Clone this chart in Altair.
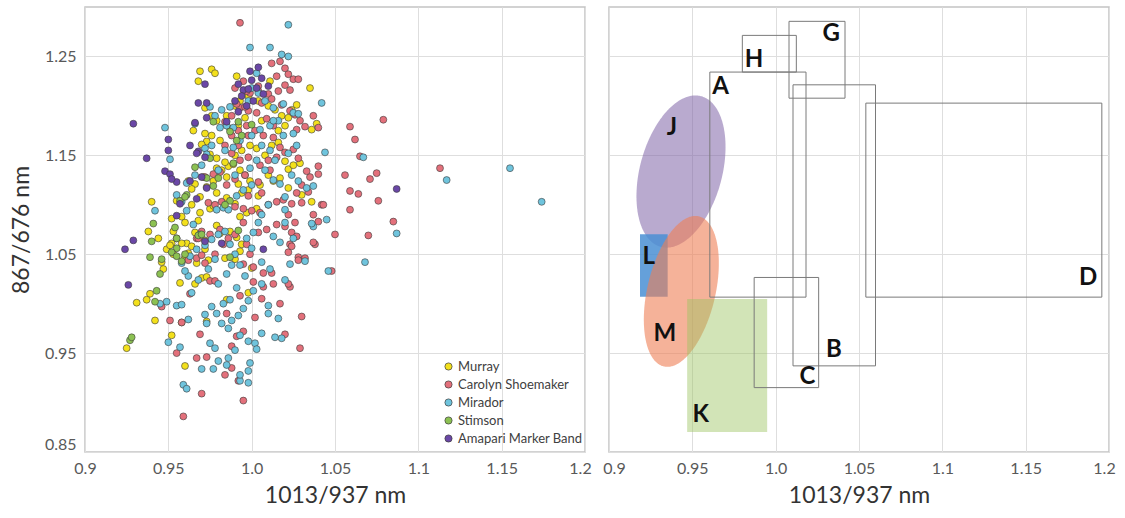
import altair as alt
import numpy as np
import pandas as pd

# Panel geometry and scales
W, H = 500, 445
X_DOMAIN = [0.9, 1.2]
Y_DOMAIN = [0.85, 1.3]
X_TICKS = [0.9, 0.95, 1.0, 1.05, 1.1, 1.15, 1.2]
X_TICK_LABELS = ["0.9", "0.95", "1.0", "1.05", "1.1", "1.15", "1.2"]
Y_TICKS = [0.85, 0.95, 1.05, 1.15, 1.25]
Y_TICK_LABELS = ["0.85", "0.95", "1.05", "1.15", "1.25"]

SERIES = ["Murray", "Carolyn Shoemaker", "Mirador", "Stimson", "Amapari Marker Band"]
COLORS = ["#f3e01c", "#e3707b", "#6fc4dd", "#8cc152", "#6a47a6"]

# (1013/937, 867/676) band ratios per member
MURRAY = [
    (0.969, 1.235), (0.976, 1.237), (0.978, 1.233), (0.968, 1.225), (0.991, 1.230), (1.011, 1.225),
    (1.035, 1.218), (0.972, 1.198), (0.976, 1.190), (0.940, 1.103), (0.938, 1.073), (0.944, 1.066),
    (0.949, 1.055), (0.953, 1.050), (0.952, 1.061), (0.946, 1.042), (0.947, 1.035), (0.939, 1.010),
    (0.937, 1.004), (0.931, 1.001), (0.942, 0.983), (0.952, 0.968), (0.925, 0.955), (0.960, 0.937),
    (0.958, 0.981), (0.957, 1.021), (0.966, 1.020), (0.970, 1.026), (0.973, 1.027), (0.973, 0.982),
    (1.000, 1.036), (0.998, 1.011), (0.985, 1.004), (0.981, 1.071), (0.979, 1.079), (0.955, 1.104),
    (0.964, 1.100), (0.961, 1.061), (0.964, 1.058), (0.967, 1.041), (0.974, 1.044), (0.972, 1.055),
    (0.958, 1.061), (0.962, 1.051), (0.960, 1.047), (0.966, 1.072), (0.972, 1.064), (0.968, 1.084),
    (0.969, 1.092), (0.975, 1.096), (0.977, 1.099), (0.979, 1.112), (0.985, 1.107), (0.994, 1.112),
    (0.998, 1.115), (1.004, 1.109), (0.992, 1.121), (0.977, 1.124), (0.973, 1.118), (0.966, 1.121),
    (0.962, 1.124), (0.979, 1.137), (0.982, 1.135), (0.986, 1.139), (0.989, 1.141), (0.993, 1.135),
    (0.996, 1.130), (0.999, 1.124), (0.990, 1.150), (0.994, 1.155), (0.999, 1.160), (1.003, 1.157),
    (1.008, 1.150), (1.012, 1.160), (1.016, 1.163), (1.020, 1.144), (1.022, 1.136), (1.025, 1.140),
    (1.030, 1.110), (1.022, 1.117), (1.036, 1.103), (1.036, 1.176), (1.039, 1.182), (1.029, 1.142),
    (0.973, 1.164), (0.970, 1.161), (0.976, 1.170), (0.981, 1.165), (0.987, 1.177), (0.985, 1.190),
    (0.990, 1.200), (0.993, 1.205), (0.998, 1.210), (1.004, 1.205), (1.010, 1.200), (1.014, 1.196),
    (1.018, 1.190), (1.022, 1.188), (1.020, 1.180), (1.016, 1.175), (1.006, 1.185), (0.996, 1.188),
    (0.992, 1.180), (0.979, 1.185), (0.972, 1.172), (0.965, 1.175), (0.975, 1.151), (0.979, 1.147),
    (0.984, 1.143), (1.010, 1.130), (1.013, 1.124), (1.017, 1.127), (1.005, 1.120), (0.990, 1.101),
    (0.993, 1.088), (0.987, 1.073), (0.991, 1.067), (0.994, 1.060), (0.993, 1.053), (0.990, 1.045),
    (0.984, 1.046), (0.955, 1.066), (0.951, 1.059), (0.953, 1.073), (0.960, 1.082), (0.952, 1.086),
    (0.958, 1.088), (0.964, 1.116), (0.969, 1.108), (1.027, 1.201), (1.024, 1.196), (1.003, 1.096),
    (0.997, 1.092), (0.985, 1.128), (0.971, 1.128),
]

CAROLYN = [
    (0.993, 1.284), (1.012, 1.243), (1.017, 1.245), (1.020, 1.238), (1.022, 1.232), (1.015, 1.230),
    (1.025, 1.227), (1.028, 1.227), (1.020, 1.221), (1.023, 1.216), (1.016, 1.215), (1.010, 1.212),
    (1.004, 1.220), (0.999, 1.213), (0.990, 1.218), (0.995, 1.225), (1.006, 1.203), (1.012, 1.207),
    (1.018, 1.201), (1.023, 1.195), (1.026, 1.191), (1.029, 1.185), (1.027, 1.176), (1.032, 1.179),
    (1.037, 1.190), (1.040, 1.178), (1.040, 1.139), (1.040, 1.131), (1.025, 1.156), (1.028, 1.147),
    (1.015, 1.148), (1.011, 1.135), (1.005, 1.140), (0.998, 1.148), (0.993, 1.145), (0.988, 1.152),
    (0.984, 1.160), (0.988, 1.170), (0.992, 1.175), (0.997, 1.180), (1.002, 1.175), (1.007, 1.170),
    (1.013, 1.168), (1.017, 1.158), (1.020, 1.153), (1.013, 1.180), (1.009, 1.187), (1.003, 1.193),
    (0.998, 1.195), (0.993, 1.198), (0.988, 1.190), (0.984, 1.184), (0.998, 1.170), (0.992, 1.160),
    (0.996, 1.130), (0.990, 1.126), (0.985, 1.120), (0.981, 1.133), (0.977, 1.131), (0.972, 1.128),
    (0.974, 1.102), (0.978, 1.100), (0.982, 1.103), (0.990, 1.098), (0.995, 1.096), (1.000, 1.094),
    (1.005, 1.092), (1.010, 1.100), (1.015, 1.103), (1.019, 1.105), (1.024, 1.101), (1.027, 1.112),
    (1.030, 1.120), (1.035, 1.128), (1.033, 1.134), (1.022, 1.090), (1.026, 1.082), (1.020, 1.078),
    (1.015, 1.080), (1.009, 1.075), (1.004, 1.072), (1.024, 1.072), (1.027, 1.068), (1.023, 1.060),
    (1.022, 1.052), (1.024, 1.058), (1.028, 1.047), (0.995, 1.082), (0.990, 1.070), (0.981, 1.075),
    (0.975, 1.070), (0.970, 1.073), (0.967, 1.066), (0.962, 1.044), (0.967, 1.046), (0.970, 1.049),
    (0.972, 1.041), (0.975, 1.023), (0.978, 1.023), (0.968, 1.066), (0.963, 1.010), (0.958, 0.981),
    (0.955, 0.950), (0.951, 0.983), (0.946, 0.997), (0.967, 0.945), (0.970, 0.909), (0.973, 0.946),
    (0.969, 0.969), (0.984, 0.928), (0.988, 0.935), (0.992, 0.922), (0.988, 0.957), (0.991, 0.967),
    (0.995, 0.972), (0.985, 0.990), (1.002, 0.986), (1.006, 1.005), (1.013, 1.020), (1.012, 1.031),
    (1.007, 1.031), (1.001, 1.037), (0.999, 1.050), (0.997, 1.060), (1.001, 1.022), (0.993, 1.008),
    (1.007, 1.017), (1.020, 0.969), (1.023, 1.017), (1.017, 1.000), (1.022, 1.020), (0.959, 0.886),
    (0.995, 0.902), (1.050, 1.070), (1.040, 1.083), (1.042, 1.100), (1.038, 1.060), (1.028, 1.044),
    (0.978, 1.050), (0.983, 1.060), (0.986, 1.066), (0.995, 1.040), (0.998, 1.109), (1.004, 1.123),
    (1.010, 1.145), (1.006, 1.112), (0.996, 1.199), (0.991, 1.202), (0.997, 1.215), (1.004, 1.215),
    (1.113, 1.137), (1.079, 1.186), (1.059, 1.179), (1.062, 1.166), (1.065, 1.149), (1.056, 1.130),
    (1.071, 1.126), (1.075, 1.132), (1.059, 1.114), (1.064, 1.111), (1.076, 1.104), (1.043, 1.100),
    (1.059, 1.095), (1.085, 1.083), (1.070, 1.069), (1.037, 1.062), (1.048, 1.033), (1.030, 0.987),
    (1.029, 0.955), (1.032, 1.046), (1.034, 1.113), (1.030, 1.102), (1.037, 1.090),
]

MIRADOR = [
    (1.022, 1.282), (0.999, 1.259), (1.011, 1.259), (1.018, 1.252), (1.022, 1.250), (1.003, 1.233),
    (1.000, 1.218), (1.004, 1.213), (0.998, 1.205), (1.008, 1.205), (1.013, 1.198), (1.019, 1.202),
    (1.025, 1.193), (1.016, 1.185), (1.011, 1.180), (1.005, 1.176), (0.987, 1.199), (0.982, 1.196),
    (0.978, 1.190), (0.985, 1.180), (0.989, 1.178), (1.000, 1.170), (1.006, 1.160), (1.011, 1.155),
    (1.014, 1.145), (1.022, 1.152), (1.027, 1.160), (1.019, 1.170), (0.993, 1.165), (0.989, 1.158),
    (0.984, 1.155), (0.976, 1.160), (0.972, 1.157), (0.970, 1.140), (0.980, 1.135), (0.990, 1.130),
    (0.999, 1.137), (1.003, 1.145), (1.008, 1.135), (1.013, 1.125), (1.017, 1.121), (1.024, 1.130),
    (1.028, 1.124), (1.033, 1.117), (1.037, 1.119), (1.037, 1.078), (1.045, 1.085), (1.042, 1.203),
    (1.044, 1.153), (1.067, 1.148), (1.117, 1.125), (1.155, 1.137), (1.174, 1.103), (1.087, 1.071),
    (1.068, 1.042), (1.046, 1.033), (1.032, 1.043), (1.006, 1.042), (1.000, 1.056), (0.997, 1.066),
    (1.001, 1.072), (1.004, 1.082), (1.006, 1.090), (1.010, 1.100), (1.013, 1.068), (1.017, 1.062),
    (1.011, 1.035), (1.006, 1.020), (1.001, 1.013), (0.998, 1.003), (0.995, 0.995), (0.992, 0.988),
    (0.988, 0.983), (0.986, 0.975), (0.982, 0.980), (0.979, 0.990), (0.976, 0.997), (0.972, 0.989),
    (0.973, 0.980), (0.975, 0.960), (0.978, 0.955), (0.980, 0.942), (0.985, 0.938), (0.990, 0.953),
    (0.993, 0.968), (0.998, 0.962), (1.002, 0.960), (0.999, 0.940), (0.998, 0.932), (0.998, 0.920),
    (0.993, 0.922), (0.993, 0.928), (0.986, 0.945), (0.977, 0.934), (0.970, 0.934), (0.959, 0.918),
    (0.961, 0.914), (0.957, 0.956), (0.950, 0.961), (0.955, 0.998), (0.949, 1.002), (0.945, 1.000),
    (0.958, 0.999), (0.962, 0.984), (0.964, 1.011), (0.968, 1.024), (0.962, 1.028), (0.960, 1.033),
    (0.958, 1.041), (0.963, 1.048), (0.967, 1.055), (0.972, 1.059), (0.976, 1.065), (0.980, 1.070),
    (0.984, 1.073), (0.987, 1.060), (0.990, 1.050), (0.993, 1.039), (0.996, 1.028), (0.991, 1.016),
    (0.987, 1.004), (0.983, 1.000), (0.980, 1.020), (0.985, 1.030), (0.988, 1.039), (0.978, 1.045),
    (0.974, 1.035), (0.969, 1.070), (0.965, 1.080), (0.961, 1.094), (0.958, 1.103), (0.955, 1.110),
    (0.961, 1.122), (0.966, 1.130), (0.966, 1.182), (0.973, 1.151), (0.951, 1.146), (0.948, 1.178),
    (0.942, 1.094), (0.979, 1.095), (0.983, 1.097), (0.986, 1.095), (0.991, 1.109), (0.995, 1.115),
    (1.000, 1.120), (1.020, 1.082), (1.020, 1.095), (1.025, 1.066), (1.023, 1.040), (1.020, 1.024),
    (1.016, 0.985), (1.018, 0.965), (1.014, 0.966), (1.010, 0.990), (1.006, 0.970), (1.003, 0.954),
    (1.010, 0.998), (1.025, 1.172), (1.028, 1.192), (0.975, 1.199), (0.981, 1.178), (1.036, 1.081),
    (1.013, 1.185), (1.020, 1.108),
]

STIMSON = [
    (0.927, 0.963), (0.942, 1.002), (0.943, 1.013), (0.945, 1.030), (0.946, 1.045), (0.939, 1.047),
    (0.940, 1.063), (0.941, 1.081), (0.954, 1.077), (0.955, 1.066), (0.955, 1.056), (0.958, 1.043),
    (0.961, 1.110), (0.957, 1.104), (0.966, 1.138), (0.975, 1.147), (0.977, 1.119), (0.987, 1.047),
    (0.992, 1.074), (0.987, 1.174), (0.992, 1.184), (1.000, 1.181), (0.977, 1.184), (0.968, 1.069),
    (0.970, 1.070), (0.987, 1.104), (0.991, 1.165), (0.984, 1.100), (0.960, 1.050), (0.952, 1.052),
    (0.980, 1.127), (0.994, 1.170), (0.973, 1.127), (0.989, 1.142), (0.960, 1.108), (0.955, 1.048),
    (0.928, 0.966),
]

AMAPARI = [
    (0.929, 1.182), (0.937, 1.147), (0.924, 1.055), (0.929, 1.064), (0.926, 1.019), (0.950, 1.166),
    (0.950, 1.155), (0.948, 1.134), (0.951, 1.131), (0.955, 1.123), (0.963, 1.160), (0.968, 1.154),
    (0.966, 1.183), (0.973, 1.188), (0.973, 1.203), (0.968, 1.203), (0.972, 1.222), (1.087, 1.116),
    (1.007, 1.055), (0.967, 1.106), (0.955, 1.089), (0.973, 1.117), (0.999, 1.235), (1.004, 1.239),
    (0.992, 1.222), (0.995, 1.216), (1.003, 1.218), (1.007, 1.212), (1.001, 1.205), (0.997, 1.200),
    (0.992, 1.194), (0.985, 1.184), (0.970, 1.128), (0.963, 1.124), (0.952, 1.126), (0.957, 1.101),
    (0.972, 1.063), (0.982, 1.061), (1.000, 1.226), (1.010, 1.220), (1.006, 1.228), (0.998, 1.217),
    (0.994, 1.210), (0.990, 1.205), (0.972, 1.148), (0.967, 1.152),
]

# Outlined member fields: label, x-min, x-max, y-min, y-max
BOX_NAMES = ["A", "H", "G", "B", "C", "D"]
BOX_X1 = [0.9605, 0.9800, 1.0080, 1.0104, 0.9871, 1.0541]
BOX_X2 = [1.0182, 1.0124, 1.0416, 1.0599, 1.0258, 1.1957]
BOX_Y1 = [1.0066, 1.2342, 1.2078, 0.9371, 0.9151, 1.0066]
BOX_Y2 = [1.2342, 1.2713, 1.2855, 1.2213, 1.0265, 1.2028]

# Shaded rectangular fields
FILL_NAMES = ["L", "K"]
FILL_X1 = [0.9186, 0.9469]
FILL_X2 = [0.9352, 0.9949]
FILL_Y1 = [1.0069, 0.8702]
FILL_Y2 = [1.0701, 1.0046]
FILL_COLORS = ["#4a8fd4", "#9bc35f"]
FILL_OPACITY = [0.85, 0.45]

# Elliptical fields: centre, upper end of the long axis, short/long axis ratio
ELL_NAMES = ["J", "M"]
ELL_CX = [0.9432, 0.9434]
ELL_CY = [1.1336, 1.0124]
ELL_TIPX = [0.9553, 0.9539]
ELL_TIPY = [1.2098, 1.0883]
ELL_RATIO = [0.527, 0.442]
ELL_COLORS = ["#8064a8", "#ee7e55"]
ELL_OPACITY = [0.55, 0.6]

# Field letters
LETTERS = ["A", "H", "G", "B", "C", "D", "K", "L", "J", "M"]
LETTER_X = [0.967, 0.987, 1.0333, 1.035, 1.019, 1.1874, 0.9551, 0.9238, 0.9378, 0.9335]
LETTER_Y = [1.219, 1.2467, 1.2727, 0.953, 0.926, 1.0255, 0.8871, 1.0468, 1.1775, 0.9698]


def label_expr(ticks, labels):
    expr = "''"
    for t, lab in zip(reversed(ticks), reversed(labels)):
        expr = f"abs(datum.value - {t}) < 1e-6 ? '{lab}' : ({expr})"
    return expr


KX = W / (X_DOMAIN[1] - X_DOMAIN[0])
KY = H / (Y_DOMAIN[1] - Y_DOMAIN[0])


def ellipse_band(name, cx, cy, tipx, tipy, ratio, n=160):
    """Lower/upper edges of a tilted ellipse across its width, in data units."""
    ux, uy = (tipx - cx) * KX, (tipy - cy) * KY
    a = np.hypot(ux, uy)
    b = a * ratio
    s, c = ux / a, uy / a
    A = c * c / a**2 + s * s / b**2
    xmax = np.sqrt(a * a * s * s + b * b * c * c)
    X = -xmax * np.cos(np.linspace(0, np.pi, n))
    B = 2 * X * (s * c / a**2 - c * s / b**2)
    C = X**2 * (s * s / a**2 + c * c / b**2) - 1
    disc = np.clip(B**2 - 4 * A * C, 0, None)
    yl = (-B - np.sqrt(disc)) / (2 * A)
    yu = (-B + np.sqrt(disc)) / (2 * A)
    return pd.DataFrame({
        "name": name,
        "x": cx + X / KX,
        "ylo": cy + yl / KY,
        "yhi": cy + yu / KY,
    })


rows = []
for name, pts in zip(SERIES, [MURRAY, CAROLYN, MIRADOR, STIMSON, AMAPARI]):
    for x, y in pts:
        rows.append({"series": name, "x": x, "y": y, "order": SERIES.index(name)})
points = pd.DataFrame(rows)

FONT = "Lato"
xscale = alt.Scale(domain=X_DOMAIN, nice=False, zero=False)
yscale = alt.Scale(domain=Y_DOMAIN, nice=False, zero=False)

x_label_offset = {"condition": {"test": "datum.value > 1.19", "value": -5}, "value": 0}
x_label_offset_right = {
    "condition": [
        {"test": "datum.value > 1.19", "value": -5},
        {"test": "datum.value < 0.91", "value": 5},
    ],
    "value": 0,
}


def make_x_axis(offset):
    return alt.Axis(
        values=X_TICKS, labelExpr=label_expr(X_TICKS, X_TICK_LABELS), labelFlush=False,
        labelOffset=offset, grid=True, ticks=False, domain=False, labelPadding=8, titlePadding=8,
    )


x_axis_left = make_x_axis(x_label_offset)
x_axis_right = make_x_axis(x_label_offset_right)
y_axis_left = alt.Axis(
    values=Y_TICKS, labelExpr=label_expr(Y_TICKS, Y_TICK_LABELS), labelFlush=True,
    grid=True, ticks=False, domain=False, labelPadding=9, titlePadding=11,
)
y_axis_right = alt.Axis(
    values=Y_TICKS, grid=True, ticks=False, domain=False, labels=False, minExtent=0, maxExtent=0,
)

scatter = alt.Chart(points).mark_circle(
    size=48, opacity=1, stroke="#3b3b3b", strokeWidth=0.6
).encode(
    x=alt.X("x:Q", scale=xscale, axis=x_axis_left, title="1013/937 nm"),
    y=alt.Y("y:Q", scale=yscale, axis=y_axis_left, title="867/676 nm"),
    color=alt.Color(
        "series:N",
        scale=alt.Scale(domain=SERIES, range=COLORS),
        legend=alt.Legend(
            title=None, orient="none", legendX=357, legendY=353, padding=0,
            labelFont=FONT, labelFontSize=13, labelColor="#404040", labelOffset=3,
            symbolType="circle", symbolSize=52, symbolStrokeColor="#3b3b3b",
            symbolStrokeWidth=0.7, symbolOpacity=1, rowPadding=4,
        ),
    ),
    order=alt.Order("order:Q"),
).properties(width=W, height=H)

# Right panel layers
ell_frames = [
    ellipse_band(n_, cx, cy, tx, ty, r)
    for n_, cx, cy, tx, ty, r in zip(ELL_NAMES, ELL_CX, ELL_CY, ELL_TIPX, ELL_TIPY, ELL_RATIO)
]

base_x = alt.X("x1:Q", scale=xscale, axis=x_axis_right, title="1013/937 nm")
base_y = alt.Y("y1:Q", scale=yscale, axis=y_axis_right, title=None)


def ellipse_layer(i):
    return alt.Chart(ell_frames[i]).mark_area(
        color=ELL_COLORS[i], opacity=ELL_OPACITY[i]
    ).encode(
        x=alt.X("x:Q", scale=xscale, axis=x_axis_right, title="1013/937 nm"),
        y=alt.Y("ylo:Q", scale=yscale, axis=y_axis_right, title=None),
        y2="yhi:Q",
    )


def fill_layer(i):
    df = pd.DataFrame({"x1": [FILL_X1[i]], "x2": [FILL_X2[i]], "y1": [FILL_Y1[i]], "y2": [FILL_Y2[i]]})
    return alt.Chart(df).mark_rect(color=FILL_COLORS[i], opacity=FILL_OPACITY[i]).encode(
        x=base_x, x2="x2:Q", y=base_y, y2="y2:Q"
    )


boxes = pd.DataFrame({"name": BOX_NAMES, "x1": BOX_X1, "x2": BOX_X2, "y1": BOX_Y1, "y2": BOX_Y2})
box_layer = alt.Chart(boxes).mark_rect(
    fillOpacity=0, stroke="#7a7a7a", strokeWidth=1
).encode(x=base_x, x2="x2:Q", y=base_y, y2="y2:Q")

letters = pd.DataFrame({"t": LETTERS, "x1": LETTER_X, "y1": LETTER_Y})
letter_layer = alt.Chart(letters).mark_text(
    font=FONT, fontWeight="bold", fontSize=24, color="#111111", align="center", baseline="middle"
).encode(x=base_x, y=base_y, text="t:N")

fields = alt.layer(
    ellipse_layer(0), fill_layer(0), ellipse_layer(1), fill_layer(1), box_layer, letter_layer
).properties(width=W, height=H)

chart = alt.hconcat(scatter, fields, spacing=24, bounds="flush").properties(
    padding={"left": 9, "top": 6, "right": 4, "bottom": 4}
).configure_view(
    stroke="#c4c4c4", strokeWidth=1.5
).configure_axis(
    labelFont=FONT, labelFontSize=16, labelColor="#595959",
    titleFont=FONT, titleFontSize=23, titleFontWeight="normal", titleColor="#333333",
    gridColor="#dedede", gridWidth=1,
)

chart.save("out.html", embed_options={"renderer": "svg", "actions": False})
